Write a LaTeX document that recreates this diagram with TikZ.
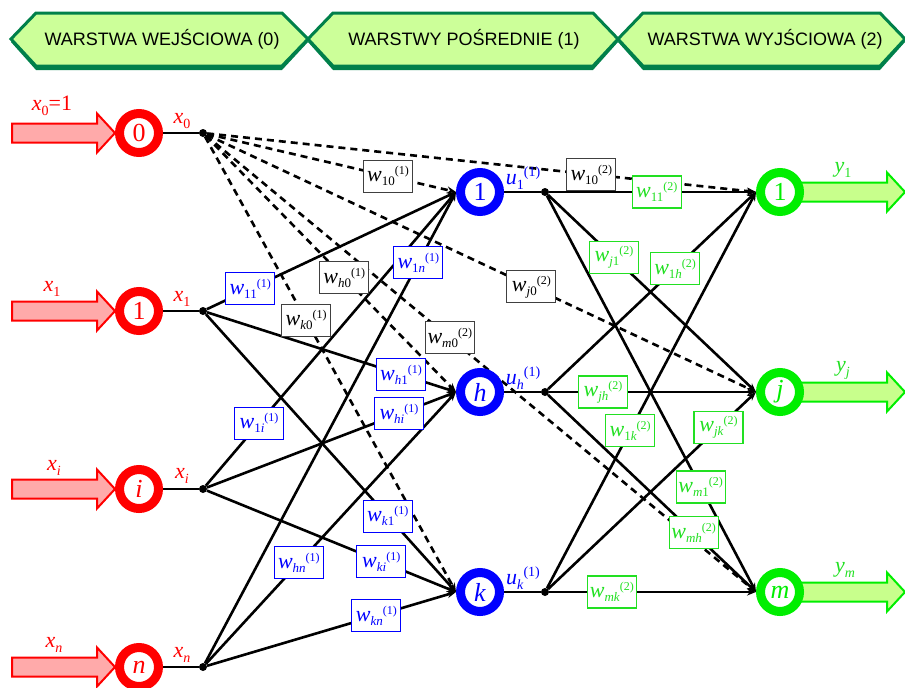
\documentclass[tikz,border=0pt]{standalone}
\usepackage{fontspec}
\usepackage{graphicx}
\setmainfont{Liberation Serif}
\newfontfamily\bannerfont{Liberation Sans}
\usetikzlibrary{arrows.meta}

\definecolor{inred}{HTML}{FF0000}
\definecolor{inpink}{HTML}{FFAAAA}
\definecolor{hidblue}{HTML}{0000FF}
\definecolor{outgreen}{HTML}{00EE00}
\definecolor{outlight}{HTML}{C8FF8C}
\definecolor{labgreen}{HTML}{22E022}
\definecolor{bannerfill}{HTML}{CCFF99}
\definecolor{bannerline}{HTML}{00804A}

% weight symbol: w with subscript and layer index
\newcommand\wgt[2]{\textit{w}\raisebox{-4pt}{\fontsize{13}{13}\selectfont #1}\raisebox{7pt}{\fontsize{12}{12}\selectfont(#2)}}
% symbol with subscript only
\newcommand\symsub[2]{\textit{#1}\raisebox{-5pt}{\fontsize{14}{14}\selectfont #2}}
% symbol with subscript and layer index
\newcommand\symsubsup[3]{\textit{#1}\raisebox{-5pt}{\fontsize{14}{14}\selectfont #2}\raisebox{8pt}{\fontsize{14}{14}\selectfont(#3)}}

\pgfdeclarelayer{back}
\pgfsetlayers{back,main}

\tikzset{
  ring/.style={circle, line width=9pt, minimum size=39pt, inner sep=0pt, outer sep=4.5pt,
    fill=white, font=\fontsize{26}{26}\selectfont},
  inring/.style={ring, draw=inred, text=inred},
  hidring/.style={ring, draw=hidblue, text=hidblue},
  outring/.style={ring, draw=outgreen, text=outgreen},
  dot/.style={circle, fill=black, inner sep=0pt, minimum size=8pt},
  wire/.style={line width=2.6pt},
  link/.style={line width=2.6pt, -{Stealth[length=9pt,width=7pt]}},
  biaslink/.style={link, dash pattern=on 7pt off 5pt},
  wbox/.style={rectangle, fill=white, line width=1.2pt, minimum width=49pt,
    minimum height=32pt, inner sep=0pt, font=\fontsize{22}{22}\selectfont},
  wblack/.style={wbox, draw=black!75, text=black},
  wblue/.style={wbox, draw=hidblue, text=hidblue},
  wgreen/.style={wbox, draw=labgreen, text=labgreen},
  redlab/.style={text=inred, font=\fontsize{22}{22}\selectfont, inner sep=0pt},
  bluelab/.style={text=hidblue, font=\fontsize{22}{22}\selectfont, inner sep=0pt},
  greenlab/.style={text=labgreen, font=\fontsize{22}{22}\selectfont, inner sep=0pt},
  inarrow/.style={draw=inred, fill=inpink, line width=2pt, line join=miter},
  outarrow/.style={draw=outgreen, fill=outlight, line width=2pt, line join=miter},
  banner/.style={draw=bannerline, fill=bannerfill, line width=3pt, line join=miter},
  bannershadow/.style={fill=bannerline},
  bannertext/.style={font=\fontsize{18}{18}\bannerfont, inner sep=0pt, text=black},
}

\begin{document}
\begin{tikzpicture}[x=1pt,y=-1pt]
\useasboundingbox (0,0) rectangle (905,688);

% ---- layer banners ----
\fill[bannershadow] (11,42) -- (36,16) -- (282,16) -- (308,42) -- (282,70) -- (36,70) -- cycle;
\fill[bannershadow] (308,42) -- (333,16) -- (593,16) -- (618,42) -- (593,70) -- (333,70) -- cycle;
\fill[bannershadow] (618,42) -- (643,16) -- (880,16) -- (905,42) -- (880,70) -- (643,70) -- cycle;
\draw[banner] (11,39) -- (36,13) -- (282,13) -- (308,39) -- (282,66) -- (36,66) -- cycle;
\draw[banner] (308,39) -- (333,13) -- (593,13) -- (618,39) -- (593,66) -- (333,66) -- cycle;
\draw[banner] (618,39) -- (643,13) -- (880,13) -- (905,39) -- (880,66) -- (643,66) -- cycle;
\node[bannertext] (b0) at (162,39) {WARSTWA WEJŚCIOWA (0)};
\node[bannertext] (b1) at (464,39) {WARSTWY POŚREDNIE (1)};
\node[bannertext] (b2) at (765,39) {WARSTWA WYJŚCIOWA (2)};

% ---- neurons ----
\node[inring] (i0) at (139,133) {0};
\node[inring] (i1) at (139,311) {1};
\node[inring] (ii) at (139,489) {\textit{i}};
\node[inring] (xn) at (139,667) {\textit{n}};

\node[dot] (d0) at (203,133) {};
\node[dot] (d1) at (203,311) {};
\node[dot] (di) at (203,489) {};
\node[dot] (dn) at (203,667) {};

\node[hidring] (h1) at (480,192) {1};
\node[hidring] (hh) at (480,392) {\textit{h}};
\node[hidring] (hk) at (480,592) {\textit{k}};

\node[dot] (u1) at (545,192) {};
\node[dot] (uh) at (545,392) {};
\node[dot] (uk) at (545,592) {};

\node[outring] (o1) at (780,192) {1};
\node[outring] (oj) at (780,392) {\textit{j}};
\node[outring] (om) at (780,592) {\textit{m}};

\begin{pgfonlayer}{back}
% input arrows
\foreach \n in {i0,i1,ii,xn}
  \draw[inarrow] (\n.west) -- ++(-18,-19.5) -- ++(0,10) -- ++(-85,0) -- ++(0,19)
    -- ++(85,0) -- ++(0,10) -- cycle;
% output arrows
\foreach \n in {o1,oj,om}
  \draw[outarrow] (\n.center) ++(10,-9.5) -- ++(97,0) -- ++(0,-10) -- ++(18,19.5)
    -- ++(-18,19.5) -- ++(0,-10) -- ++(-97,0) -- cycle;

% neuron outputs to branch points
\draw[wire] (i0.east) -- (d0);
\draw[wire] (i1.east) -- (d1);
\draw[wire] (ii.east) -- (di);
\draw[wire] (xn.east) -- (dn);
\draw[wire] (h1.east) -- (u1);
\draw[wire] (hh.east) -- (uh);
\draw[wire] (hk.east) -- (uk);

% bias connections
\draw[biaslink] (d0) -- coordinate[pos=0.727] (pb1) (h1.west);
\draw[biaslink] (d0) -- coordinate[pos=0.553] (pbh) (hh.west);
\draw[biaslink] (d0) -- coordinate[pos=0.403] (pbk) (hk.west);
\draw[biaslink] (d0) -- coordinate[pos=0.700] (qb1) (o1.west);
\draw[biaslink] (d0) -- coordinate[pos=0.591] (qbj) (oj.west);
\draw[biaslink] (d0) -- coordinate[pos=0.443] (qbm) (om.west);

% input -> hidden
\draw[link] (d1) -- coordinate[pos=0.174] (p11) (h1.west);
\draw[link] (d1) -- coordinate[pos=0.779] (ph1) (hh.west);
\draw[link] (d1) -- coordinate[pos=0.727] (pk1) (hk.west);
\draw[link] (di) -- coordinate[pos=0.213] (p1i) (h1.west);
\draw[link] (di) -- coordinate[pos=0.771] (phi) (hh.west);
\draw[link] (di) -- coordinate[pos=0.700] (pki) (hk.west);
\draw[link] (dn) -- coordinate[pos=0.850] (p1n) (h1.west);
\draw[link] (dn) -- coordinate[pos=0.372] (phn) (hh.west);
\draw[link] (dn) -- coordinate[pos=0.680] (pkn) (hk.west);

% hidden -> output
\draw[link] (u1) -- coordinate[pos=0.52] (q11) (o1.west);
\draw[link] (u1) -- coordinate[pos=0.317] (qj1) (oj.west);
\draw[link] (u1) -- coordinate[pos=0.735] (qm1) (om.west);
\draw[link] (uh) -- coordinate[pos=0.611] (q1h) (o1.west);
\draw[link] (uh) -- coordinate[pos=0.26] (qjh) (oj.west);
\draw[link] (uh) -- coordinate[pos=0.70] (qmh) (om.west);
\draw[link] (uk) -- coordinate[pos=0.398] (q1k) (o1.west);
\draw[link] (uk) -- coordinate[pos=0.82] (qjk) (oj.west);
\draw[link] (uk) -- coordinate[pos=0.303] (qmk) (om.west);
\end{pgfonlayer}

% ---- weight labels ----
\node[wblack] (wb1) at (pb1) {\wgt{10}{1}};
\node[wblack] (wbh) at (pbh) {\wgt{\textit{h}0}{1}};
\node[wblack] (wbk) at (pbk) {\wgt{\textit{k}0}{1}};
\node[wblack] (vb1) at (qb1) {\wgt{10}{2}};
\node[wblack] (vbj) at (qbj) {\wgt{\textit{j}0}{2}};
\node[wblack] (vbm) at (qbm) {\wgt{\textit{m}0}{2}};

\node[wblue] (w11) at (p11) {\wgt{11}{1}};
\node[wblue] (wh1) at (ph1) {\wgt{\textit{h}1}{1}};
\node[wblue] (wk1) at (pk1) {\wgt{\textit{k}1}{1}};
\node[wblue] (w1i) at (p1i) {\wgt{1\textit{i}}{1}};
\node[wblue] (whi) at (phi) {\wgt{\textit{hi}}{1}};
\node[wblue] (wki) at (pki) {\wgt{\textit{ki}}{1}};
\node[wblue] (w1n) at (p1n) {\wgt{1\textit{n}}{1}};
\node[wblue] (whn) at (phn) {\wgt{\textit{hn}}{1}};
\node[wblue] (wkn) at (pkn) {\wgt{\textit{kn}}{1}};

\node[wgreen] (v11) at (q11) {\wgt{11}{2}};
\node[wgreen] (vj1) at (qj1) {\wgt{\textit{j}1}{2}};
\node[wgreen] (vm1) at (qm1) {\wgt{\textit{m}1}{2}};
\node[wgreen] (v1h) at (q1h) {\wgt{1\textit{h}}{2}};
\node[wgreen] (vjh) at (qjh) {\wgt{\textit{jh}}{2}};
\node[wgreen] (vmh) at (qmh) {\wgt{\textit{mh}}{2}};
\node[wgreen] (v1k) at (q1k) {\wgt{1\textit{k}}{2}};
\node[wgreen] (vjk) at (qjk) {\wgt{\textit{jk}}{2}};
\node[wgreen] (vmk) at (qmk) {\wgt{\textit{mk}}{2}};

% ---- signal labels ----
\node[redlab] (lx0) at (52,106) {\symsub{x}{0}=1};
\node[redlab] (lx1) at (52,289) {\symsub{x}{1}};
\node[redlab] (lxi) at (54,468) {\symsub{x}{\textit{i}}};
\node[redlab] (lxn) at (54,645) {\symsub{x}{\textit{n}}};
\node[redlab] (rx0) at (182,121) {\symsub{x}{0}};
\node[redlab] (rx1) at (182,299) {\symsub{x}{1}};
\node[redlab] (rxi) at (182,476) {\symsub{x}{\textit{i}}};
\node[redlab] (rxn) at (182,655) {\symsub{x}{\textit{n}}};

\node[bluelab] (lu1) at (523,178) {\symsubsup{u}{1}{1}};
\node[bluelab] (luh) at (523,378) {\symsubsup{u}{\textit{h}}{1}};
\node[bluelab] (luk) at (523,578) {\symsubsup{u}{\textit{k}}{1}};

\node[greenlab] (ly1) at (843,170) {\symsub{y}{1}};
\node[greenlab] (lyj) at (843,370) {\symsub{y}{\textit{j}}};
\node[greenlab] (lym) at (845,570) {\symsub{y}{\textit{m}}};
\end{tikzpicture}
\end{document}
